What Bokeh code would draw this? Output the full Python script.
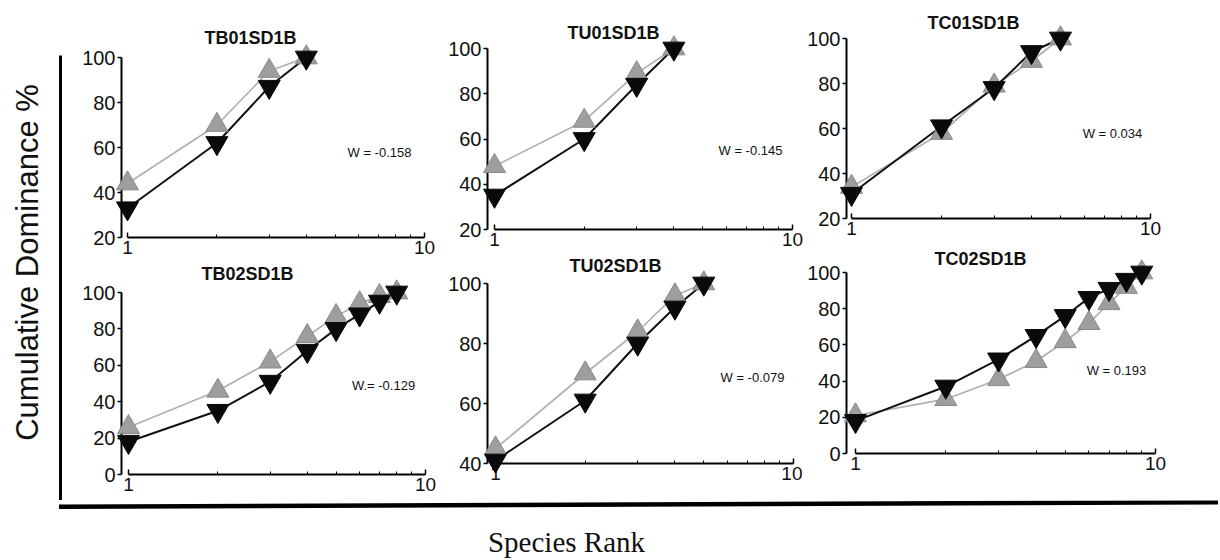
import math
from bokeh.plotting import figure
from bokeh.layouts import row, column
from bokeh.models import Range1d, FixedTicker, PrintfTickFormatter, Label, BoxAnnotation, PolyAnnotation
from bokeh.embed import file_html
from bokeh.resources import INLINE

# ---------------- data ----------------
titles = ["TB01SD1B", "TU01SD1B", "TC01SD1B", "TB02SD1B", "TU02SD1B", "TC02SD1B"]
w_labels = ["W = -0.158", "W = -0.145", "W = 0.034", "W.= -0.129", "W = -0.079", "W = 0.193"]
y_mins = [20, 20, 20, 0, 40, 0]

# gray up-triangles (abundance) and black down-triangles (biomass), cumulative %
tb01_abundance = [44, 70, 94, 100]
tb01_biomass = [33, 62, 87, 100]
tu01_abundance = [48, 68, 89, 100]
tu01_biomass = [35, 60, 84, 100]
tc01_abundance = [34, 58, 79, 90, 100]
tc01_biomass = [31, 61, 78, 94, 100]
tb02_abundance = [26, 46, 62, 76, 87, 94, 98, 100]
tb02_biomass = [18, 35, 51, 68, 80, 88, 95, 100]
tu02_abundance = [45, 70, 84, 96, 100]
tu02_biomass = [41, 61, 80, 92, 100]
tc02_abundance = [21, 30, 41, 51, 62, 72, 83, 92, 100]
tc02_biomass = [18, 37, 52, 65, 76, 86, 91, 96, 100]

abundance = [tb01_abundance, tu01_abundance, tc01_abundance, tb02_abundance, tu02_abundance, tc02_abundance]
biomass = [tb01_biomass, tu01_biomass, tc01_biomass, tb02_biomass, tu02_biomass, tc02_biomass]

x_ticks = [1, 10]
x_minor = [2, 3, 4, 5, 6, 7, 8, 9]

# ---------------- layout geometry (page pixels) ----------------
# L/R/B borders, ftop = frame top, ax = y-axis x, x1/x10 = pixel of rank 1 / 10,
# top/bot = pixel of 100 / ymin
geom = [
    dict(L=57, R=18, B=27, ftop=0, ax=119, x1=125, x10=422, top=57, bot=237, title=(248, 37), w=(377, 152)),
    dict(L=40, R=17, B=26, ftop=0, ax=480, x1=487, x10=785, top=48, bot=229, title=(606, 32), w=(743, 150)),
    dict(L=40, R=44, B=27, ftop=0, ax=842, x1=847, x10=1146, top=38, bot=218, title=(969, 22), w=(1108, 133)),
    dict(L=59, R=15, B=26, ftop=264, ax=121, x1=128, x10=425, top=292, bot=474, title=(247, 273), w=(383, 385)),
    dict(L=47, R=9, B=37, ftop=255, ax=487, x1=495, x10=793, top=283, bot=463, title=(615, 265), w=(752, 377)),
    dict(L=41, R=38, B=47, ftop=245, ax=843, x1=852, x10=1152, top=272, bot=453, title=(977, 258), w=(1113, 370)),
]

FONT = "Liberation Sans"


def panel(i):
    g = geom[i]
    ymin = y_mins[i]
    ab = abundance[i]
    bm = biomass[i]
    ranks = list(range(1, len(ab) + 1))
    decade = g["x10"] - g["x1"]
    x_start = 10 ** (-(g["x1"] - g["ax"]) / decade)
    fw = g["x10"] - g["ax"]
    fh = g["bot"] - g["ftop"]
    per_px = (100 - ymin) / (g["bot"] - g["top"])
    y_end = ymin + fh * per_px   # frame extends above 100 to hold the title

    p = figure(x_axis_type="log", x_range=Range1d(x_start, 10), y_range=Range1d(ymin, y_end),
               frame_width=fw, frame_height=fh, title=None,
               min_border_left=g["L"], min_border_right=g["R"],
               min_border_top=0, min_border_bottom=g["B"],
               toolbar_location=None, output_backend="svg")
    p.outline_line_color = None
    p.xgrid.visible = False
    p.ygrid.visible = False
    p.background_fill_color = "white"
    p.border_fill_color = "white"

    # x axis
    p.xaxis.ticker = FixedTicker(ticks=x_ticks, minor_ticks=x_minor)
    p.xaxis.formatter = PrintfTickFormatter(format="%d")
    p.xaxis.bounds = (1, 10)
    p.xaxis.axis_line_width = 2
    p.xaxis.major_tick_in = 5
    p.xaxis.major_tick_out = 0
    p.xaxis.minor_tick_in = 3
    p.xaxis.minor_tick_out = 0
    p.xaxis.major_tick_line_width = 1.5
    p.xaxis.major_label_standoff = 3
    p.xaxis.major_label_text_font = FONT
    p.xaxis.major_label_text_font_size = "19px"
    p.xaxis.major_label_text_color = "#111111"

    # y axis (line stops at 100)
    p.yaxis.ticker = FixedTicker(ticks=list(range(ymin, 101, 20)), minor_ticks=[])
    p.yaxis.bounds = (ymin, 100)
    p.yaxis.axis_line_width = 2
    p.yaxis.major_tick_in = 0
    p.yaxis.major_tick_out = 4
    p.yaxis.major_tick_line_width = 1.5
    p.yaxis.major_label_standoff = 2
    p.yaxis.major_label_text_font = FONT
    p.yaxis.major_label_text_font_size = "20px"
    p.yaxis.major_label_text_color = "#111111"

    # curves
    p.line(ranks, ab, line_color="#b0b0b0", line_width=1.7, level="overlay")
    p.line(ranks, bm, line_color="#111111", line_width=2, level="overlay")
    p.scatter(ranks, ab, marker="triangle", size=22, fill_color="#9e9e9e",
              line_color="#8a8a8a", line_width=1, level="overlay")
    p.scatter(ranks, bm, marker="inverted_triangle", size=22, fill_color="#0a0a0a",
              line_color="#0a0a0a", line_width=1, level="overlay")

    # text, page-pixel positions converted to data units
    def to_data(px, py):
        return 10 ** ((px - g["x1"]) / decade), ymin + (g["bot"] - py) * per_px

    tx, ty = to_data(*g["title"])
    p.add_layout(Label(x=tx, y=ty, text=titles[i], text_align="center", text_baseline="middle",
                       text_font=FONT, text_font_size="18px", text_font_style="bold",
                       text_color="#111111"))
    wx, wy = to_data(*g["w"])
    p.add_layout(Label(x=wx, y=wy, text=w_labels[i], text_align="center", text_baseline="middle",
                       text_font=FONT, text_font_size="13px", text_color="#111111"))
    return p


panels = [panel(i) for i in range(6)]

# left label strip with vertical frame line (data units == page pixels)
ylab = figure(width=62, height=500, x_range=Range1d(0, 62), y_range=Range1d(500, 0),
              x_axis_location=None, y_axis_location=None, min_border=0, title=None,
              toolbar_location=None, output_backend="svg")
ylab.outline_line_color = None
ylab.xgrid.visible = False
ylab.ygrid.visible = False
ylab.add_layout(Label(x=27, y=262, text="Cumulative Dominance %", angle=math.pi / 2,
                      text_align="center", text_baseline="middle",
                      text_font=FONT, text_font_size="31px", text_color="#111111"))
ylab.add_layout(BoxAnnotation(left=58.5, right=61.5, top=55, bottom=500,
                              fill_color="black", fill_alpha=1, line_color=None))

# bottom strip with horizontal frame line and x label (x == page px, y == page px - 500)
xlab = figure(width=1218, height=59, x_range=Range1d(0, 1218), y_range=Range1d(59, 0),
              x_axis_location=None, y_axis_location=None, min_border=0, title=None,
              toolbar_location=None, output_backend="svg")
xlab.outline_line_color = None
xlab.xgrid.visible = False
xlab.ygrid.visible = False
xlab.add_layout(PolyAnnotation(xs=[58.5, 1218, 1218, 58.5], ys=[4, -0.5, 4, 8.5],
                               fill_color="black", fill_alpha=1, line_color=None))
xlab.add_layout(Label(x=566, y=41, text="Species Rank", text_align="center",
                      text_baseline="middle", text_font="Liberation Serif",
                      text_font_size="29px", text_color="#111111"))

grid = row(column(panels[0], panels[3]), column(panels[1], panels[4]), column(panels[2], panels[5]))
layout = column(row(ylab, grid), xlab)

open("out.html", "w").write(file_html(layout, INLINE))
